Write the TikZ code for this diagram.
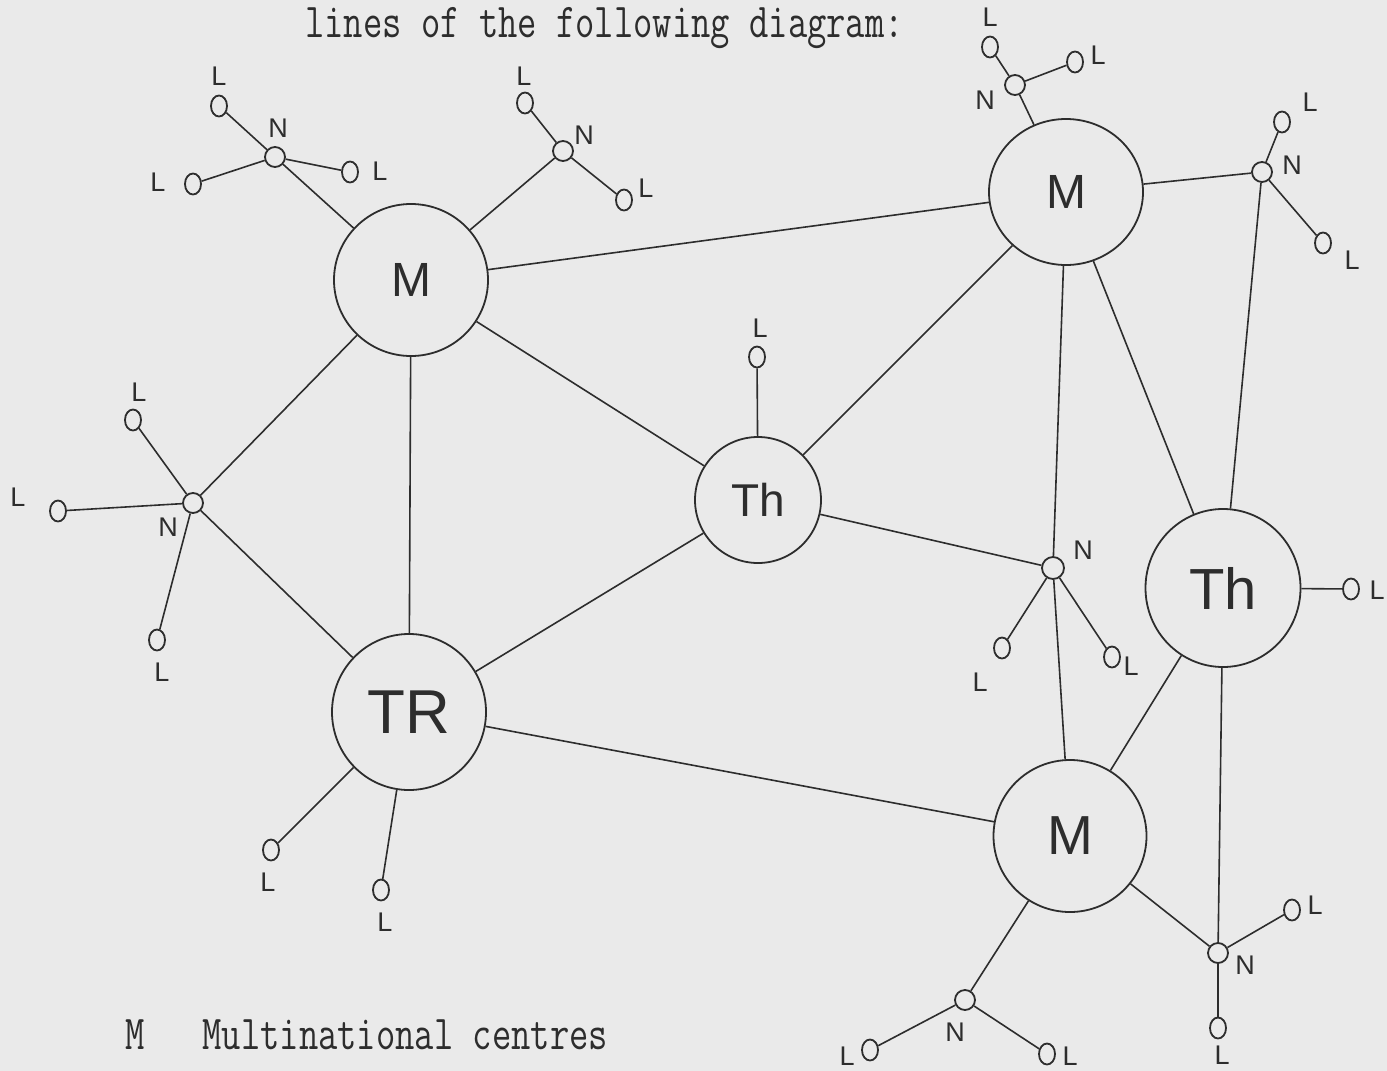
\documentclass[tikz,border=0pt]{standalone}
\usepackage{fontspec}
\setmainfont{Liberation Sans}
\usepackage{graphicx}
\usetikzlibrary{shapes.geometric}
\definecolor{paper}{RGB}{234,234,234}
\definecolor{ink}{RGB}{45,45,45}
\begin{document}
\begin{tikzpicture}[x=1pt,y=-1pt,
  stroke/.style={draw=ink, line width=1.8pt},
  bigc/.style={stroke, ellipse, inner sep=0pt, text=ink},
  nn/.style={stroke, circle, minimum size=20pt, inner sep=0pt},
  ll/.style={stroke, ellipse, minimum width=16pt, minimum height=21pt, inner sep=0pt},
  lab/.style={font=\fontsize{27}{27}\selectfont, text=ink, inner sep=0pt},
  con/.style={draw=ink, line width=1.6pt},
  typed/.style={font=\ttfamily\fontsize{37.5}{37.5}\selectfont, text=ink, inner sep=0pt, anchor=base west}]
\fill[paper] (0,0) rectangle (1387,1071);
\useasboundingbox (0,0) rectangle (1387,1071);

\node[typed] (title) at (305,37) {\scalebox{1}[1.3]{lines of the following diagram:}};
\node[typed] (legend) at (125,1049) {\scalebox{1}[1.3]{M\ \ \ Multinational centres}};

% big centres
\node[bigc, minimum width=154pt, minimum height=152pt, font=\fontsize{48}{48}\selectfont] (M1) at (411,280) {M};
\node[bigc, minimum width=154pt, minimum height=146pt, font=\fontsize{48}{48}\selectfont] (M2) at (1066,192) {M};
\node[bigc, minimum width=126pt, minimum height=126pt, font=\fontsize{46}{46}\selectfont] (Th1) at (758,500) {Th};
\node[bigc, minimum width=155pt, minimum height=158pt, font=\fontsize{58}{58}\selectfont] (Th2) at (1223,588) {Th};
\node[bigc, minimum width=154pt, minimum height=156pt, font=\fontsize{62}{62}\selectfont] (TR) at (409,712) {TR};
\node[bigc, minimum width=153pt, minimum height=152pt, font=\fontsize{55}{55}\selectfont] (M3) at (1070,836) {M};

% small nodes
\node[nn] (tlN) at (275,157) {};
\node[ll] (tlL1) at (219,106) {};
\node[ll] (tlL2) at (193,184) {};
\node[ll] (tlL3) at (350,172) {};
\node[nn] (tmN) at (563,151) {};
\node[ll] (tmL1) at (525,103) {};
\node[ll] (tmL2) at (624,200) {};
\node[nn] (trN) at (1015,85) {};
\node[ll] (trL1) at (990,47) {};
\node[ll] (trL2) at (1075,62) {};
\node[nn] (rN) at (1262,172) {};
\node[ll] (rL1) at (1282,122) {};
\node[ll] (rL2) at (1323,243) {};
\node[nn] (lN) at (193,503) {};
\node[ll] (lL1) at (133,420) {};
\node[ll] (lL2) at (58,511) {};
\node[ll] (lL3) at (157,640) {};
\node[ll] (tL1) at (271,850) {};
\node[ll] (tL2) at (381,890) {};
\node[ll] (hL) at (757,357) {};
\node[nn, minimum width=22pt] (mN) at (1053,568) {};
\node[ll] (mL1) at (1002,648) {};
\node[ll] (mL2) at (1112,657) {};
\node[ll] (h2L) at (1351,589) {};
\node[nn] (bN) at (965,1000) {};
\node[ll] (bL1) at (870,1050) {};
\node[ll] (bL2) at (1047,1054) {};
\node[nn] (brN) at (1218,953) {};
\node[ll] (brL1) at (1292,910) {};
\node[ll] (brL2) at (1218,1028) {};

% labels
\node[lab] (a1) at (219,76) {L};
\node[lab] (a2) at (278,128) {N};
\node[lab] (a3) at (158,182) {L};
\node[lab] (a4) at (380,171) {L};
\node[lab] (b1) at (524,76) {L};
\node[lab] (b2) at (584,135) {N};
\node[lab] (b3) at (646,188) {L};
\node[lab] (c1) at (990,17) {L};
\node[lab] (c2) at (985,100) {N};
\node[lab] (c3) at (1098,55) {L};
\node[lab] (d1) at (1310,102) {L};
\node[lab] (d2) at (1292,165) {N};
\node[lab] (d3) at (1352,260) {L};
\node[lab] (e1) at (139,392) {L};
\node[lab] (e2) at (168,527) {N};
\node[lab] (e3) at (18,497) {L};
\node[lab] (e4) at (162,672) {L};
\node[lab] (f1) at (268,882) {L};
\node[lab] (f2) at (385,922) {L};
\node[lab] (g1) at (760,328) {L};
\node[lab] (h1) at (1083,550) {N};
\node[lab] (h2) at (980,682) {L};
\node[lab] (h3) at (1131,666) {L};
\node[lab] (i1) at (1377,590) {L};
\node[lab] (j1) at (955,1032) {N};
\node[lab] (j2) at (847,1056) {L};
\node[lab] (j3) at (1070,1056) {L};
\node[lab] (k1) at (1245,965) {N};
\node[lab] (k2) at (1315,905) {L};
\node[lab] (k3) at (1222,1055) {L};

% main connectors
\draw[con] (M1) -- (M2);
\draw[con] (M1) -- (Th1);
\draw[con] (M1) -- (TR);
\draw[con] (M2) -- (Th1);
\draw[con] (M2) -- (Th2);
\draw[con] (Th1) -- (TR);
\draw[con] (TR) -- (M3);
\draw[con] (Th2) -- (M3);
\draw[con] (M2) -- (mN);
\draw[con] (mN) -- (M3);
\draw[con] (Th1) -- (mN);
\draw[con] (rN) -- (Th2);
\draw[con] (M2) -- (rN);
\draw[con] (Th2) -- (brN);
\draw[con] (M3) -- (brN);
\draw[con] (M3) -- (bN);
\draw[con] (M1) -- (tlN);
\draw[con] (M1) -- (tmN);
\draw[con] (M1) -- (lN);
\draw[con] (lN) -- (TR);
\draw[con] (M2) -- (trN);

% local links
\draw[con] (tlN) -- (tlL1);
\draw[con] (tlN) -- (tlL2);
\draw[con] (tlN) -- (tlL3);
\draw[con] (tmN) -- (tmL1);
\draw[con] (tmN) -- (tmL2);
\draw[con] (trN) -- (trL1);
\draw[con] (trN) -- (trL2);
\draw[con] (rN) -- (rL1);
\draw[con] (rN) -- (rL2);
\draw[con] (lN) -- (lL1);
\draw[con] (lN) -- (lL2);
\draw[con] (lN) -- (lL3);
\draw[con] (TR) -- (tL1);
\draw[con] (TR) -- (tL2);
\draw[con] (Th1) -- (hL);
\draw[con] (mN) -- (mL1);
\draw[con] (mN) -- (mL2);
\draw[con] (Th2) -- (h2L);
\draw[con] (bN) -- (bL1);
\draw[con] (bN) -- (bL2);
\draw[con] (brN) -- (brL1);
\draw[con] (brN) -- (brL2);
\end{tikzpicture}
\end{document}
